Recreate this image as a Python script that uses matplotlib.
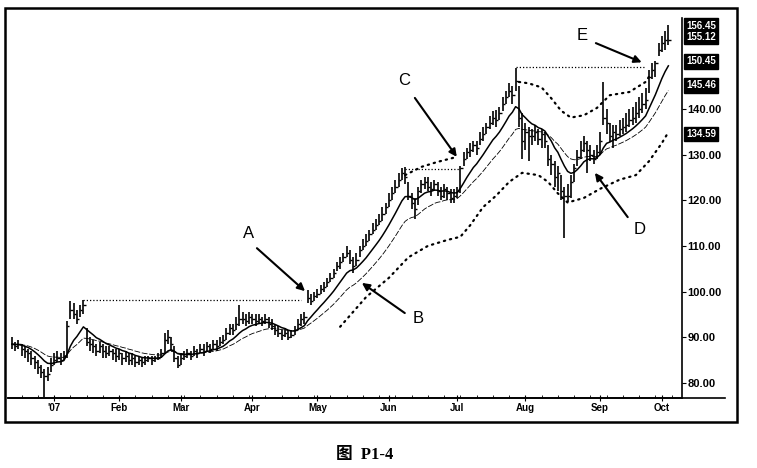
import numpy as np
import pandas as pd
import matplotlib
matplotlib.use("Agg")
import matplotlib.pyplot as plt
import matplotlib.transforms as mtransforms
from matplotlib.patches import Rectangle
from matplotlib.lines import Line2D

# daily bars (mid Dec 2006 -> early Oct 2007)
close = [88.5, 88, 88.5, 87.5, 87, 86.5, 85.5, 84.5, 83.5, 82.5,
         81.5, 82, 84, 85, 85.5, 85, 86, 92.5, 96, 95,
         94, 96, 97, 89, 88.5, 88, 87, 88, 87, 86.5,
         87, 86.5, 86, 86.5, 85.5, 86, 85, 85.5, 84.5, 85,
         84.5, 85, 85.5, 85, 85.5, 85.5, 86.5, 89.5, 90, 88.5,
         85.5, 84, 85.5, 86, 86.5, 86, 87, 86.5, 87.5, 87,
         88, 87.5, 88.5, 88, 89, 89.5, 91, 92, 91.5, 93,
         94, 94, 93.5, 94.5, 94, 93.5, 94, 93.5, 94, 93,
         92.5, 91.5, 91, 90.5, 91, 90, 90.5, 91.5, 93, 94,
         94.5, 98.5, 98, 99, 99.5, 100.5, 101, 102, 103, 104,
         105.5, 106.5, 107.5, 108.5, 107, 105.5, 107, 109, 110, 111,
         112.5, 113.5, 114.5, 115.5, 117, 118.5, 120, 121.5, 123, 124.5,
         126, 125, 121, 119.5, 118, 122, 123.5, 124, 123, 122.5,
         123.5, 122, 121, 122.5, 121.5, 120.5, 121, 122, 127, 129,
         130.5, 131, 132, 131.5, 133.5, 134.5, 136, 137, 138, 137.5,
         139, 141, 142.5, 144, 143, 146, 138, 133, 135, 134,
         134, 135, 133.5, 134.5, 133, 129, 128, 125, 126, 122,
         121, 121, 124, 127, 129.5, 131, 132.5, 131, 130, 129,
         130.5, 133, 138, 137, 134, 135, 134.5, 135.5, 136, 136.5,
         137.5, 138, 139, 140, 141, 142, 147, 148.5, 150, 153,
         154.5, 155, 155.1]
high = [90, 89, 89.5, 88.5, 88, 87.5, 87, 86, 85, 84,
        83, 83.5, 85.5, 86.5, 87, 86.5, 87, 93.5, 98, 97.5,
        96, 97, 98.2, 92, 90, 89.5, 88.5, 89, 88.5, 88,
        88, 87.5, 87.5, 87.5, 86.5, 87, 86.5, 86.5, 86, 86,
        85.5, 86, 86, 86, 86, 86.5, 87.5, 91, 91.5, 90,
        88, 86, 86.5, 87, 87.5, 87, 88, 87.5, 88.5, 88.5,
        89, 88.5, 89.5, 89.5, 90, 90.5, 92, 93, 93, 94.5,
        97, 95.5, 95, 95.5, 95, 95, 95, 94.5, 95, 94.5,
        94, 93, 92.5, 91.5, 92, 91.5, 91.5, 92.5, 94, 95,
        95.5, 100.3, 99.5, 100, 100.5, 101.5, 102, 103, 104, 105,
        106.5, 107.5, 108.5, 110, 109, 107.5, 108.5, 110, 111.5, 112.5,
        113.5, 115, 116, 117, 118.5, 119.5, 121.5, 123, 124.5, 126,
        127, 127.3, 124, 121.5, 120.5, 123, 124.5, 125, 125, 124,
        124.5, 124, 123, 123.5, 123, 122.5, 122.5, 123, 127.5, 130.5,
        131.5, 132.5, 133, 133, 135, 136, 137, 138.5, 139.5, 139.7,
        140.5, 142.5, 144, 145.6, 145, 148.9, 145, 139, 137, 136,
        135.5, 136.5, 135.5, 135.5, 135, 132, 130, 128.5, 127.5, 125.5,
        123, 123.5, 125.5, 128, 131, 133, 134, 133, 132, 131,
        132, 135, 145.9, 140, 137, 136.5, 136.5, 137.5, 138, 139,
        140, 140.5, 141.5, 142.5, 143.5, 144.5, 148.5, 150, 150.5, 154.5,
        156, 157, 158.3]
low = [87.5, 87, 87.5, 86, 85.5, 84.5, 84, 83, 82, 81,
       77, 80.5, 82.5, 84, 84.5, 84, 85, 85.5, 94, 94,
       93, 94.5, 95, 88, 87, 86.5, 86, 86.5, 85.5, 85.5,
       86, 85, 84.5, 85, 84, 84.5, 84, 84, 83.5, 84,
       83.5, 84, 84.5, 84, 84.5, 85, 85.5, 86.5, 88.5, 87,
       84.5, 83.3, 84, 85, 85.5, 85, 86, 85.5, 86.5, 86,
       87, 86.5, 87.5, 87, 88, 88.5, 89.5, 90.5, 90.5, 91.5,
       92.5, 93, 92.5, 93, 93, 92.5, 93, 92.5, 93, 92,
       91.5, 90.5, 90, 89.5, 90, 89.5, 89.8, 90.5, 91.5, 92.5,
       93, 97.5, 97, 98, 98.5, 99.5, 100, 101, 102, 103,
       104.5, 105, 106.5, 107.5, 106, 104, 105.5, 107.5, 109, 110,
       111, 112.5, 113.5, 114.5, 115.5, 117, 118.5, 120, 121.5, 123,
       124.5, 123.5, 120, 118, 116, 119, 121.5, 122.5, 122, 121,
       122, 121, 120, 120.5, 120, 119.5, 119.5, 120.5, 121.5, 127.5,
       129, 129.5, 130.5, 130, 132, 133, 134.5, 135.5, 136.5, 136,
       137.5, 139.5, 141, 142.5, 141, 144, 136, 129, 131, 128.5,
       132, 133, 132, 131.5, 131.5, 127.5, 125.5, 123, 122, 120,
       111.7, 119.6, 120.5, 124, 127.5, 129, 130.5, 126, 128.5, 128,
       129, 130, 136.5, 134.5, 132.7, 131.4, 133, 134, 134.5, 135,
       136, 136.5, 137, 138, 139, 140, 143.5, 146.5, 147, 151.5,
       152.5, 153, 154]

# month starts (bar index) and labels
month_pos = [13, 33, 52, 74, 94, 116, 137, 158, 181, 200]
month_lab = ["'07", "Feb", "Mar", "Apr", "May", "Jun", "Jul", "Aug", "Sep", "Oct"]

# dotted channel lines (bar index, price)
lower_idx = [101, 109, 116, 122, 128, 134, 138, 141, 145, 149, 153, 157,
             162, 165, 168, 171, 176, 181, 187, 192, 196, 200, 202]
lower_val = [92.3, 98.8, 103, 107.5, 110, 111.3, 112, 114.5, 118.5, 121, 124, 126,
             125.5, 124, 121.5, 119.5, 120.5, 122.5, 124.5, 125.5, 128.5, 132.5, 134.9]
upper1_idx = [121, 126, 131, 137]
upper1_val = [125.5, 127.3, 128.4, 129.5]
upper2_idx = [156, 159, 163, 166, 169, 172, 176, 180, 184, 190, 195, 196]
upper2_val = [145.9, 145.6, 144.7, 142.3, 139.6, 138.1, 138.6, 140.2, 143, 143.7, 145.9, 147]

# horizontal breakout levels: start, end, price
res_start = [22, 121, 155]
res_end = [89, 138, 195]
res_level = [98.2, 126.8, 149.2]

# last-value boxes on the price scale
box_text = ["156.45\n155.12", "150.45", "145.46", "134.59"]
box_val = [157.0, 150.45, 145.2, 134.5]

ytick_val = [80, 90, 100, 110, 120, 130, 140]

plt.rcParams['font.family'] = ['Liberation Sans', 'DejaVu Sans']

W, H = 757, 468
fig = plt.figure(figsize=(W / 100, H / 100), dpi=100)
fig.patch.set_facecolor('white')
ax = fig.add_axes([8 / W, 70 / H, 674 / W, 380 / H])

idx = np.arange(len(close))
ax.vlines(idx, low, high, color='k', lw=1.2)
ax.hlines(close, idx, idx + 0.7, color='k', lw=1.0)

s = pd.Series(close, dtype=float)
ma_fast = s.ewm(span=10, adjust=False).mean()
ma_slow = s.ewm(span=21, adjust=False).mean()
ax.plot(idx, ma_fast, color='k', lw=1.1)
ax.plot(idx, ma_slow, color='k', lw=0.6, ls=(0, (7, 2)))

dots = dict(color='k', lw=1.6, ls=(0, (0.6, 2.2)), dash_capstyle='round')
ax.plot(lower_idx, lower_val, **dots)
ax.plot(upper1_idx, upper1_val, **dots)
ax.plot(upper2_idx, upper2_val, **dots)
for a, b, lv in zip(res_start, res_end, res_level):
    ax.plot([a, b], [lv, lv], color='k', lw=0.9, ls=(0, (1, 1.6)))

# arrows and letters
arr = dict(arrowstyle='-|>', color='k', lw=1.5, mutation_scale=11, shrinkA=0, shrinkB=0)
notes = [("A", (72.9, 112.8), (75.4, 109.5), (90.2, 100.1)),
         ("B", (124.9, 94.2), (120.9, 95.3), (107.7, 101.9)),
         ("C", (120.6, 146.3), (124.0, 142.4), (136.9, 129.5)),
         ("D", (193.2, 113.5), (189.5, 116.3), (179.4, 126.0)),
         ("E", (175.4, 156.1), (179.7, 154.4), (193.8, 150.2))]
for lab, tpos, tail, tip in notes:
    ax.annotate('', xy=tip, xytext=tail, arrowprops=arr)
    ax.text(tpos[0], tpos[1], lab, fontsize=12, ha='center', va='center')

ax.set_xlim(-1.2, 206.2)
ax.set_ylim(76.7, 159.9)

ax.spines['top'].set_visible(False)
ax.spines['left'].set_visible(False)
ax.spines['right'].set_linewidth(1.2)
ax.spines['bottom'].set_linewidth(1.2)

ax.yaxis.tick_right()
ax.set_yticks(ytick_val)
ax.set_yticklabels([f"{v:.2f}" for v in ytick_val], fontsize=8, fontweight='bold')
ax.tick_params(axis='y', direction='out', length=3, pad=1)

ax.set_xticks(month_pos)
ax.set_xticklabels(month_lab, fontsize=7, fontweight='bold')
ax.set_xticks(np.arange(3, 206, 5), minor=True)
ax.tick_params(axis='x', which='major', direction='inout', length=5, pad=1)
ax.tick_params(axis='x', which='minor', direction='in', length=2)

trans = mtransforms.blended_transform_factory(ax.transAxes, ax.transData)
for txt, v in zip(box_text, box_val):
    ax.text(1.006, v, txt, transform=trans, color='white', fontsize=7,
            fontweight='bold', va='center', ha='left', linespacing=1.1,
            bbox=dict(boxstyle='square,pad=0.25', fc='black', ec='black'))

# outer frame and the x-axis line running past the price scale
fig.add_artist(Rectangle((5 / W, 46 / H), 732 / W, 414 / H, transform=fig.transFigure,
                         fill=False, lw=1.8, ec='k'))
fig.add_artist(Line2D([8 / W, 725 / W], [70 / H, 70 / H], transform=fig.transFigure,
                      color='k', lw=1.2))

fig.text(365 / W, 13 / H, '图  P1-4', ha='center', va='center', fontsize=12,
         fontweight='bold', family=['Liberation Serif', 'Noto Sans CJK SC'])

fig.savefig('out.png', dpi=100)
